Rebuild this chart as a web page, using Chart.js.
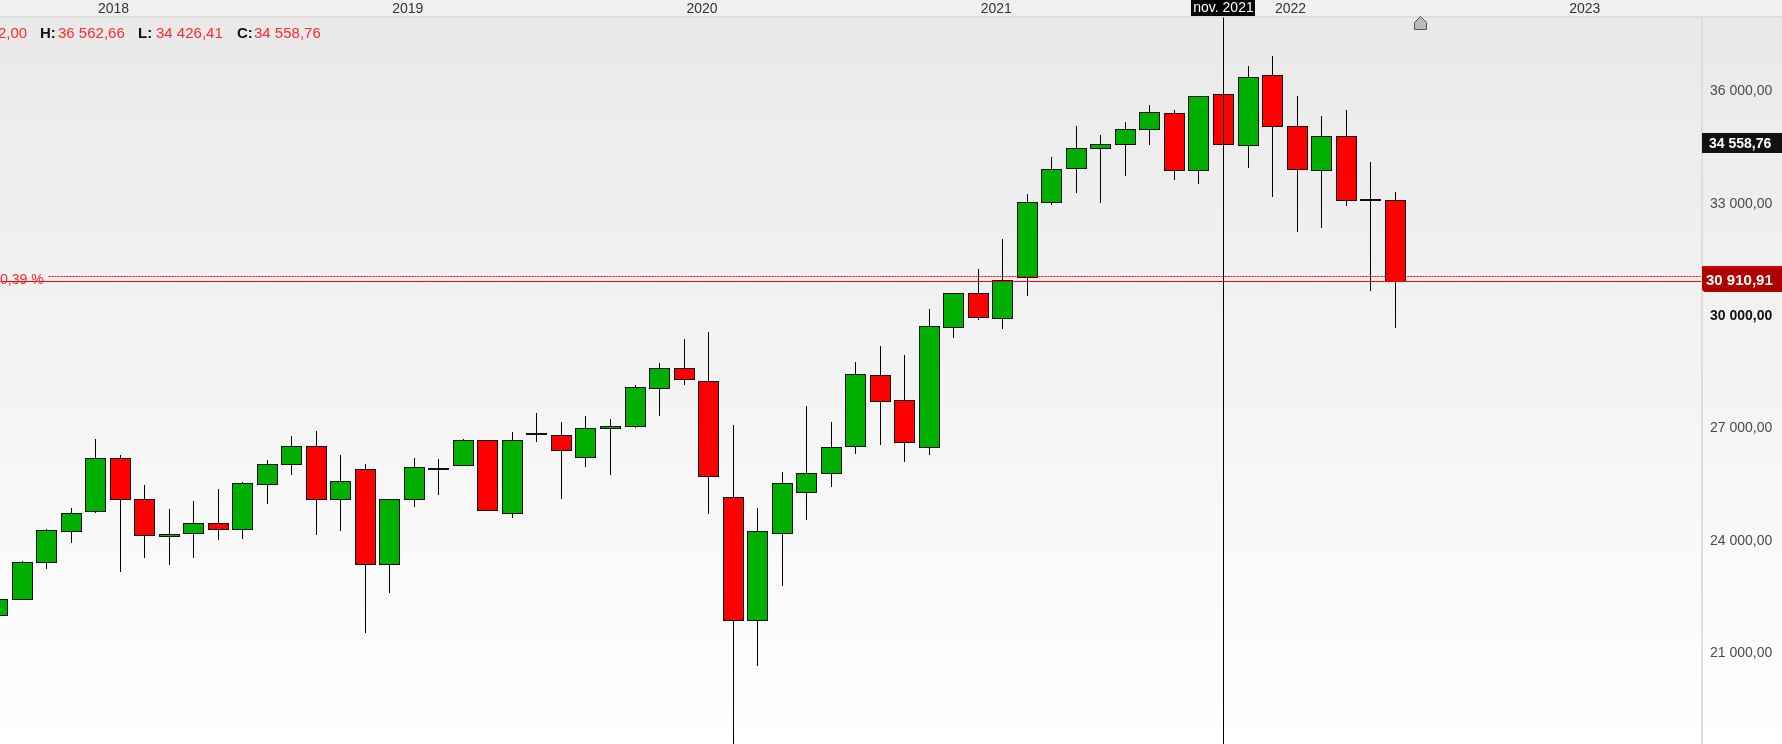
<!DOCTYPE html>
<html>
<head>
<meta charset="utf-8">
<title>Candele mensili</title>
<style>
html, body { margin: 0; padding: 0; background: #fff; overflow: hidden; }
canvas { display: block; }
</style>
</head>
<body>
<canvas id="grafico" width="1782" height="744"></canvas>
<script src="https://cdn.jsdelivr.net/npm/chart.js@4"></script>
<script>
// Monthly candles, first one is Sep 2017, index 4 = Jan 2018
const opens = [21974, 22401, 23389, 24216, 24750, 26165, 25071, 24083, 24163, 24430, 24270, 25471, 26005, 26486, 25071, 25872, 23335, 25071, 25898, 25979, 26646, 24697, 26806, 26780, 26192, 26966, 27038, 28052, 28569, 28221, 25124, 21840, 24163, 25258, 25765, 26486, 28382, 27714, 26459, 29663, 30571, 29904, 31000, 33001, 33908, 34442, 34549, 34950, 35377, 33855, 35884, 34523, 36392, 35030, 33855, 34763, 33081, 33054];
const highs = [22401, 23442, 24305, 24866, 26682, 26281, 25480, 24839, 25053, 25373, 25560, 26139, 26762, 26922, 26255, 26041, 25106, 26201, 26148, 26682, 26673, 26869, 27376, 27136, 27296, 27242, 28150, 28711, 29378, 29565, 27056, 24866, 25801, 27589, 27162, 28764, 29165, 28925, 30179, 30598, 31239, 32040, 33223, 34211, 35065, 34799, 35146, 35600, 35466, 35858, 35884, 36641, 36908, 35840, 35332, 35466, 34078, 33277];
const lows = [21974, 22401, 23220, 23914, 24715, 23131, 23513, 23326, 23513, 23994, 24020, 24955, 25729, 24127, 24234, 21511, 22579, 24875, 25195, 25979, 24777, 24581, 26610, 25089, 25943, 25729, 27002, 27305, 28132, 24688, 18213, 20630, 22766, 24528, 25409, 26290, 26530, 26077, 26263, 29387, 29868, 29628, 30509, 32938, 33259, 32992, 33713, 34540, 33606, 33499, 34549, 33926, 33152, 32217, 32324, 32912, 30642, 29654];
const closes = [22401, 23389, 24243, 24697, 26165, 25071, 24110, 24136, 24430, 24270, 25498, 26005, 26486, 25071, 25551, 23335, 25071, 25925, 25916, 26646, 24777, 26646, 26833, 26379, 26966, 27020, 28061, 28569, 28275, 25685, 21840, 24216, 25498, 25765, 26459, 28408, 27687, 26593, 29690, 30571, 29930, 30918, 33001, 33882, 34442, 34549, 34950, 35404, 33855, 35831, 34549, 36338, 35030, 33882, 34763, 33054, 33063, 30891];

const yearLabels = ['2018', '2019', '2020', '2021', '2022', '2023'];
const yearIndexes = [4, 16, 28, 40, 52, 64];
const priceTicks = [21000, 24000, 27000, 30000, 33000, 36000];

// Reference lines and the labels that go with them
const closePrice = 34558.76;
const redLinePrice = 30910.91;
const dottedLinePrice = 31025;
const crossIndex = 50;
const crossLabel = 'nov. 2021';
const markerIndex = 58;
const headerTexts = [
    ['2,00', -2, false],
    ['H:', 40, true], ['36 562,66', 58, false],
    ['L:', 138, true], ['34 426,41', 156, false],
    ['C:', 237, true], ['34 558,76', 254, false]
];
const percentLabel = '0,39 %';

const xMin = 0.102, xMax = 69.474;
const yMin = 18552, yMax = 37962;

const FONT = '"Liberation Sans", Arial, sans-serif';
const GREEN = '#00b000', RED = '#ff0000';

function formatPrice(v) {
    return v.toFixed(2).replace(/\B(?=(\d{3})+\.)/g, ' ').replace('.', ',');
}

const wicks = highs.map((h, i) => ({ x: i, y: [lows[i], h] }));
const bodies = opens.map((o, i) => ({ x: i, y: [Math.min(o, closes[i]), Math.max(o, closes[i])] }));
const bodyColors = opens.map((o, i) => closes[i] >= o ? GREEN : RED);

function lineDataset(data, color, dash) {
    return {
        type: 'line', data: data, order: 1,
        borderColor: color, borderWidth: 1, borderDash: dash,
        pointRadius: 0, tension: 0, fill: false
    };
}

// Background, header band and separators
const sfondo = {
    id: 'sfondo',
    beforeDraw(chart) {
        const c = chart.ctx;
        const g = c.createLinearGradient(0, 18, 0, 744);
        g.addColorStop(0, '#e9e9e9');
        g.addColorStop(1, '#ffffff');
        c.fillStyle = g;
        c.fillRect(0, 0, 1782, 744);
        c.fillStyle = '#f0f0f0';
        c.fillRect(0, 0, 1782, 16);
        c.fillStyle = '#dddddd';
        c.fillRect(0, 16, 1782, 2);
        c.fillRect(1701, 17, 2, 727);
    }
};

// Put bars and lines on whole pixels, otherwise 1px wicks go blurry
const snapPixel = {
    id: 'snapPixel',
    beforeDatasetsDraw(chart) {
        chart.data.datasets.forEach((ds, i) => {
            chart.getDatasetMeta(i).data.forEach(el => {
                el.x = Math.floor(el.x) + 0.5;
                if (ds.type === 'line') {
                    el.y = Math.floor(el.y) + 0.5;
                } else if (ds.isBody) {
                    el.y = Math.floor(el.y);
                    el.base = Math.ceil(el.base);
                    if (el.base - el.y < 2) el.base = el.y + 2;
                } else {
                    el.y = Math.round(el.y);
                    el.base = Math.round(el.base);
                }
            });
        });
    }
};

// Header values, price boxes, date box and marker
const etichette = {
    id: 'etichette',
    afterDraw(chart) {
        const c = chart.ctx;
        const sx = chart.scales.x, sy = chart.scales.y;
        c.save();
        c.textBaseline = 'middle';
        c.textAlign = 'left';

        headerTexts.forEach(t => {
            c.font = (t[2] ? 'bold ' : '') + '15px ' + FONT;
            c.fillStyle = t[2] ? '#111111' : '#ff2a2a';
            c.fillText(t[0], t[1], 34);
        });

        c.font = '14px ' + FONT;
        c.fillStyle = '#ff2a2a';
        c.fillText(percentLabel, 0, 280);

        // last close box
        const yClose = Math.round(sy.getPixelForValue(closePrice));
        c.fillStyle = '#111111';
        c.fillRect(1702, yClose - 11, 80, 20);
        c.fillStyle = '#ffffff';
        c.font = 'bold 14px ' + FONT;
        c.fillText(formatPrice(closePrice), 1709, yClose);

        // red line box
        const yRed = Math.round(sy.getPixelForValue(redLinePrice));
        c.fillStyle = '#b00000';
        c.beginPath();
        c.roundRect(1702, yRed - 15, 80, 26, [0, 0, 0, 4]);
        c.fill();
        c.fillStyle = '#ff0000';
        c.fillRect(1702, yRed - 15, 80, 1);
        c.fillStyle = '#ffffff';
        c.font = 'bold 15px ' + FONT;
        c.fillText(formatPrice(redLinePrice), 1706, yRed);

        // date box on the crosshair
        const xCross = Math.floor(sx.getPixelForValue(crossIndex)) + 0.5;
        c.fillStyle = '#000000';
        c.fillRect(xCross - 32.5, 0, 64, 16);
        c.fillStyle = '#ffffff';
        c.font = '14px ' + FONT;
        c.textAlign = 'center';
        c.fillText(crossLabel, xCross, 8);

        // small house marker
        const xm = Math.round(sx.getPixelForValue(markerIndex)) + 0.5;
        c.beginPath();
        c.moveTo(xm, 16.5);
        c.lineTo(xm + 6, 22.5);
        c.lineTo(xm + 6, 29.5);
        c.lineTo(xm - 6, 29.5);
        c.lineTo(xm - 6, 22.5);
        c.closePath();
        c.fillStyle = '#bbbbbb';
        c.strokeStyle = '#555555';
        c.lineWidth = 1;
        c.fill();
        c.stroke();
        c.restore();
    }
};

new Chart(document.getElementById('grafico').getContext('2d'), {
    type: 'bar',
    data: {
        datasets: [
            lineDataset([{ x: xMin, y: redLinePrice }, { x: xMax, y: redLinePrice }], '#ff0000', []),
            lineDataset([{ x: 2.1, y: dottedLinePrice }, { x: xMax, y: dottedLinePrice }], '#ff0000', [2, 1]),
            lineDataset([{ x: crossIndex, y: yMin }, { x: crossIndex, y: yMax }], '#000000', []),
            {
                data: bodies, isBody: true, order: 2, grouped: false,
                backgroundColor: bodyColors, borderColor: '#111111', borderWidth: 1,
                borderSkipped: false, inflateAmount: 0, barThickness: 21
            },
            {
                data: wicks, order: 3, grouped: false,
                backgroundColor: '#000000', borderWidth: 0,
                inflateAmount: 0, barThickness: 1
            }
        ]
    },
    plugins: [sfondo, snapPixel, etichette],
    options: {
        responsive: false,
        devicePixelRatio: 1,
        animation: false,
        layout: { padding: 0 },
        plugins: { legend: { display: false }, tooltip: { enabled: false } },
        scales: {
            x: {
                type: 'linear',
                position: 'top',
                offset: false,
                min: xMin,
                max: xMax,
                grid: { display: false, drawTicks: false },
                border: { display: false },
                afterBuildTicks(s) { s.ticks = yearIndexes.map(v => ({ value: v })); },
                afterFit(s) { s.height = 17; s.paddingLeft = 0; s.paddingRight = 0; },
                ticks: {
                    autoSkip: false,
                    maxRotation: 0,
                    padding: -1,
                    labelOffset: 18,
                    color: '#333333',
                    font: { family: FONT, size: 14 },
                    callback: v => yearLabels[yearIndexes.indexOf(v)]
                }
            },
            y: {
                position: 'right',
                min: yMin,
                max: yMax,
                grid: { display: false, drawTicks: false },
                border: { display: false },
                afterBuildTicks(s) { s.ticks = priceTicks.map(v => ({ value: v })); },
                afterFit(s) { s.width = 81; s.paddingTop = 0; s.paddingBottom = 0; },
                ticks: {
                    autoSkip: false,
                    crossAlign: 'near',
                    padding: 9,
                    labelOffset: 1,
                    color: ctx => ctx.tick.value === 30000 ? '#111111' : '#4a4a4a',
                    font: ctx => ({ family: FONT, size: 14, weight: ctx.tick && ctx.tick.value === 30000 ? 'bold' : 'normal' }),
                    callback: v => formatPrice(v)
                }
            }
        }
    }
});
</script>
</body>
</html>
